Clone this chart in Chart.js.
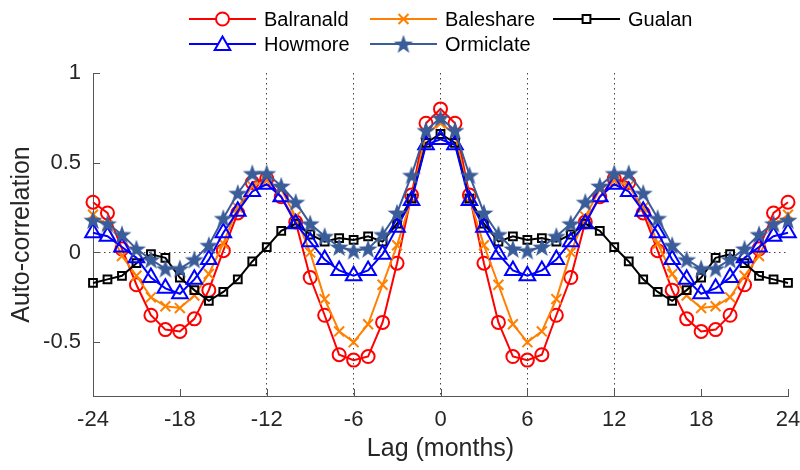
<!DOCTYPE html>
<html><head><meta charset="utf-8">
<script src="https://cdn.jsdelivr.net/npm/chart.js@4/dist/chart.umd.min.js"></script>
<style>
html,body{margin:0;padding:0;background:#fff;}
#wrap{position:relative;width:800px;height:470px;}
#legend{position:absolute;left:0;top:0;width:800px;height:60px;font-family:"Liberation Sans",Arial,Helvetica,sans-serif;font-size:20px;color:#000;}
.item{position:absolute;height:24px;display:flex;align-items:center;white-space:nowrap;}
.item canvas{display:block;margin-right:8px;}
</style>
</head><body>
<div id="wrap">
<canvas id="c" width="800" height="470"></canvas>
<div id="legend"></div>
</div>
<script>
const lags = [-24,-23,-22,-21,-20,-19,-18,-17,-16,-15,-14,-13,-12,-11,-10,-9,-8,-7,-6,-5,-4,-3,-2,-1,0,1,2,3,4,5,6,7,8,9,10,11,12,13,14,15,16,17,18,19,20,21,22,23,24];
const seriesNames = ['Balranald','Baleshare','Gualan','Howmore','Ormiclate'];
const balranald = [0.28,0.22,0.02,-0.18,-0.35,-0.43,-0.44,-0.37,-0.21,0.01,0.22,0.39,0.41,0.31,0.17,-0.14,-0.35,-0.57,-0.60,-0.58,-0.39,-0.06,0.32,0.72,0.80,0.72,0.32,-0.06,-0.39,-0.58,-0.60,-0.57,-0.35,-0.14,0.17,0.31,0.41,0.39,0.22,0.01,-0.21,-0.37,-0.44,-0.43,-0.35,-0.18,0.02,0.22,0.28];
const baleshare = [0.21,0.15,-0.02,-0.13,-0.25,-0.30,-0.31,-0.24,-0.12,0.05,0.25,0.37,0.40,0.35,0.20,0.00,-0.26,-0.44,-0.50,-0.40,-0.18,0.04,0.30,0.66,0.72,0.66,0.30,0.04,-0.18,-0.40,-0.50,-0.44,-0.26,0.00,0.20,0.35,0.40,0.37,0.25,0.05,-0.12,-0.24,-0.31,-0.30,-0.25,-0.13,-0.02,0.15,0.21];
const gualan = [-0.17,-0.15,-0.13,-0.06,-0.01,-0.03,-0.14,-0.21,-0.27,-0.22,-0.15,-0.05,0.03,0.12,0.16,0.10,0.06,0.08,0.07,0.09,0.06,0.16,0.30,0.61,0.66,0.61,0.30,0.16,0.06,0.09,0.07,0.08,0.06,0.10,0.16,0.12,0.03,-0.05,-0.15,-0.22,-0.27,-0.21,-0.14,-0.03,-0.01,-0.06,-0.13,-0.15,-0.17];
const howmore = [0.11,0.09,0.03,-0.03,-0.14,-0.20,-0.23,-0.15,-0.04,0.11,0.23,0.34,0.38,0.31,0.16,0.06,-0.04,-0.10,-0.13,-0.10,-0.01,0.14,0.29,0.60,0.63,0.60,0.29,0.14,-0.01,-0.10,-0.13,-0.10,-0.04,0.06,0.16,0.31,0.38,0.34,0.23,0.11,-0.04,-0.15,-0.23,-0.20,-0.14,-0.03,0.03,0.09,0.11];
const ormiclate = [0.18,0.16,0.10,0.02,-0.04,-0.09,-0.09,-0.04,0.04,0.19,0.33,0.44,0.44,0.37,0.28,0.16,0.09,0.03,0.01,0.02,0.10,0.22,0.43,0.68,0.75,0.68,0.43,0.22,0.10,0.02,0.01,0.03,0.09,0.16,0.28,0.37,0.44,0.44,0.33,0.19,0.04,-0.04,-0.09,-0.09,-0.04,0.02,0.10,0.16,0.18];
const xTicks = [-24,-18,-12,-6,0,6,12,18,24];
const xTickLabels = ['-24','-18','-12','-6','0','6','12','18','24'];
const yTicks = [-0.5,0,0.5,1];
const yTickLabels = ['-0.5','0','0.5','1'];
const refLinesX = [-12,-6,0,6,12];
const refLinesY = [0];
const xTitle = 'Lag (months)';
const yTitle = 'Auto-correlation';

const FONT = '"Liberation Sans", Arial, Helvetica, sans-serif';
const TXT = '#262626';
const AXIS = '#555';
const STARC = '#3a5c99';

function starPath(ctx, cx, cy, R, r) {
  ctx.beginPath();
  for (let i = 0; i < 10; i++) {
    const a = -Math.PI/2 + i*Math.PI/5;
    const rr = i % 2 === 0 ? R : r;
    const px = cx + rr*Math.cos(a), py = cy + rr*Math.sin(a);
    if (i === 0) ctx.moveTo(px, py); else ctx.lineTo(px, py);
  }
  ctx.closePath();
}
const starImg = document.createElement('canvas');
starImg.width = 22; starImg.height = 22;
(function(){ const g = starImg.getContext('2d'); starPath(g, 11, 11.8, 10, 4); g.fillStyle = STARC; g.fill(); })();

const styles = [
  {color:'#ff0000', point:'circle', radius:6.5},
  {color:'#ff8000', point:'crossRot', radius:7},
  {color:'#000000', point:'rect', radius:5.5},
  {color:'#0000ff', point:'triangle', radius:9},
  {color:STARC, point:starImg, radius:10}
];
const values = [balranald, baleshare, gualan, howmore, ormiclate];

const datasets = values.map((vals, i) => ({
  label: seriesNames[i],
  data: vals.map((v, k) => ({x: lags[k], y: v})),
  borderColor: styles[i].color,
  backgroundColor: 'rgba(0,0,0,0)',
  borderWidth: 2,
  pointStyle: styles[i].point,
  pointRadius: styles[i].radius,
  pointBorderColor: styles[i].color,
  pointBackgroundColor: 'rgba(0,0,0,0)',
  pointBorderWidth: 2,
  tension: 0,
  fill: false,
  clip: false,
  order: 4 - i
}));

const innerTicks = {
  id: 'innerTicks',
  afterDraw(chart) {
    const {ctx, chartArea: a, scales: {x, y}} = chart;
    ctx.save();
    ctx.strokeStyle = AXIS; ctx.lineWidth = 1;
    ctx.beginPath();
    xTicks.forEach(v => { const px = Math.round(x.getPixelForValue(v)) + 0.5; ctx.moveTo(px, a.bottom); ctx.lineTo(px, a.bottom - 7); });
    yTicks.forEach(v => { const py = Math.round(y.getPixelForValue(v)) + 0.5; ctx.moveTo(a.left, py); ctx.lineTo(a.left + 7, py); });
    ctx.stroke();
    ctx.restore();
  }
};

new Chart(document.getElementById('c'), {
  type: 'line',
  data: {datasets},
  options: {
    animation: false, responsive: false, maintainAspectRatio: false,
    layout: {padding: {left: 0, right: 12, top: 73, bottom: 0}},
    plugins: {legend: {display: false}, tooltip: {enabled: false}},
    scales: {
      x: {
        type: 'linear', min: -24, max: 24,
        afterBuildTicks: s => { s.ticks = xTicks.map(v => ({value: v})); },
        afterFit: s => { s.height = 74; s.paddingLeft = 0; s.paddingRight = 0; },
        ticks: {font: {family: FONT, size: 22}, color: TXT, padding: 11, maxRotation: 0, autoSkip: false,
                callback: v => xTickLabels[xTicks.indexOf(v)]},
        grid: {drawTicks: false, lineWidth: 1, color: c => (c.tick && refLinesX.includes(c.tick.value)) ? '#444' : 'rgba(0,0,0,0)'},
        border: {display: true, color: AXIS, width: 1, dash: [1.5, 3.5]},
        title: {display: true, text: xTitle, font: {family: FONT, size: 25}, color: TXT, padding: {top: 0, bottom: 6}}
      },
      y: {
        type: 'linear', min: -0.8, max: 1,
        afterBuildTicks: s => { s.ticks = yTicks.map(v => ({value: v})); },
        afterFit: s => { s.width = 93; s.paddingTop = 0; s.paddingBottom = 0; },
        ticks: {font: {family: FONT, size: 22}, color: TXT, padding: 12,
                callback: v => yTickLabels[yTicks.indexOf(v)]},
        grid: {drawTicks: false, lineWidth: 1, color: c => (c.tick && refLinesY.includes(c.tick.value)) ? '#444' : 'rgba(0,0,0,0)'},
        border: {display: true, color: AXIS, width: 1, dash: [1.5, 3.5]},
        title: {display: true, text: yTitle, font: {family: FONT, size: 25}, color: TXT, padding: {top: 7, bottom: 0}}
      }
    }
  },
  plugins: [innerTicks]
});

// HTML legend
const legendPos = [
  {left: 189, top: 7}, {left: 370, top: 7}, {left: 553, top: 7},
  {left: 189, top: 32}, {left: 370, top: 32}
];
const legendEl = document.getElementById('legend');
seriesNames.forEach((name, i) => {
  const item = document.createElement('div');
  item.className = 'item';
  item.style.left = legendPos[i].left + 'px';
  item.style.top = legendPos[i].top + 'px';
  const cv = document.createElement('canvas');
  cv.width = 67; cv.height = 24;
  const g = cv.getContext('2d');
  const st = styles[i];
  g.strokeStyle = st.color; g.lineWidth = 2;
  g.beginPath(); g.moveTo(0, 12); g.lineTo(67, 12); g.stroke();
  const cx = 33.5, cy = 12;
  g.beginPath();
  if (st.point === 'circle') { g.arc(cx, cy, 6.5, 0, Math.PI*2); g.fillStyle = '#fff'; g.fill(); g.stroke(); }
  else if (st.point === 'crossRot') { const d = 7*Math.SQRT1_2; g.moveTo(cx-d, cy-d); g.lineTo(cx+d, cy+d); g.moveTo(cx+d, cy-d); g.lineTo(cx-d, cy+d); g.stroke(); }
  else if (st.point === 'rect') { const d = 5.5*Math.SQRT1_2; g.rect(cx-d, cy-d, 2*d, 2*d); g.fillStyle = '#fff'; g.fill(); g.stroke(); }
  else if (st.point === 'triangle') { const r = 9; for (let k = 0; k < 3; k++) { const a = -Math.PI/2 + k*2*Math.PI/3; const px = cx + r*Math.cos(a), py = cy + 1.5 + r*Math.sin(a); if (k === 0) g.moveTo(px, py); else g.lineTo(px, py); } g.closePath(); g.fillStyle = '#fff'; g.fill(); g.stroke(); }
  else { g.drawImage(starImg, cx - 11, cy - 11); }
  const sp = document.createElement('span');
  sp.textContent = name;
  item.appendChild(cv); item.appendChild(sp);
  legendEl.appendChild(item);
});
</script>
</body></html>
